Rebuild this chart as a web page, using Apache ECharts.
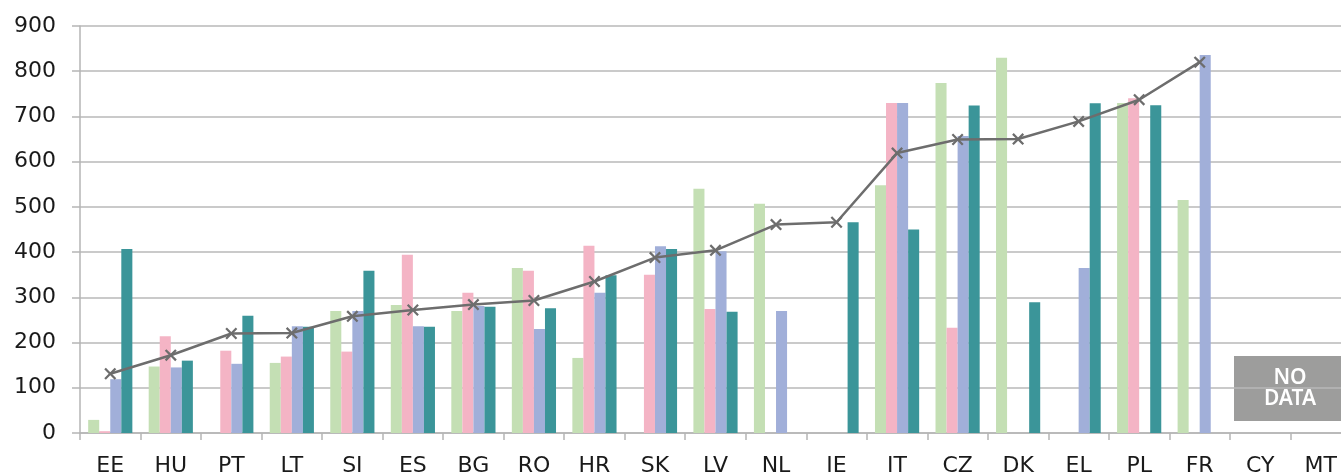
<!DOCTYPE html>
<html>
<head>
<meta charset="utf-8">
<script src="https://cdn.jsdelivr.net/npm/echarts@6/dist/echarts.min.js"></script>
<style>
html,body{margin:0;padding:0;background:#fff;}
#main{width:1341px;height:472px;}
</style>
</head>
<body>
<div id="main"></div>
<script>
const categories = ['EE','HU','PT','LT','SI','ES','BG','RO','HR','SK','LV','NL','IE','IT','CZ','DK','EL','PL','FR','CY','MT'];
const seriesA = [29, 147, null, 155, 270, 283, 270, 365, 166, null, 540, 507, null, 548, 774, 830, null, 730, 515, null, null];
const seriesB = [4, 214, 182, 169, 180, 394, 310, 359, 414, 350, 274, null, null, 730, 233, null, null, 740, null, null, null];
const seriesC = [119, 145, 153, 236, 270, 236, 281, 230, 310, 413, 402, 270, null, 730, 657, null, 365, null, 836, null, null];
const seriesD = [407, 160, 259, 235, 359, 235, 279, 276, 349, 407, 268, null, 466, 450, 724, 289, 729, 725, null, null, null];
const lineValues = [131, 172, 220, 221, 258, 272, 284, 293, 335, 388, 404, 461, 466, 619, 649, 650, 689, 737, 820, null, null];
const yTicks = {min: 0, max: 900, interval: 100};
const noDataText = 'NO\nDATA';

const colors = ['#c4dfb4', '#f4b4c5', '#a1afd9', '#3b9599'];
const font = 'DejaVu Sans';

const chart = echarts.init(document.getElementById('main'), null, {renderer: 'canvas'});
const xMarker = 'path://M0,1.6 L1.6,0 L6,4.4 L10.4,0 L12,1.6 L7.6,6 L12,10.4 L10.4,12 L6,7.6 L1.6,12 L0,10.4 L4.4,6 Z';

function bar(name, data, color) {
  return {
    name: name, type: 'bar', data: data,
    barGap: '0%', barCategoryGap: '27%',
    itemStyle: {color: color},
    emphasis: {disabled: true}
  };
}

chart.setOption({
  animation: false,
  grid: {left: 80, top: 26, width: 1271, height: 407, containLabel: false, outerBoundsMode: 'none'},
  xAxis: {
    type: 'category',
    data: categories,
    axisLine: {show: true, lineStyle: {color: '#b5b5b5', width: 1.5}},
    axisTick: {show: true, length: 7, lineStyle: {color: '#b5b5b5', width: 1.5}},
    axisLabel: {color: '#1a1a1a', fontFamily: font, fontSize: 22, margin: 22, interval: 0}
  },
  yAxis: {
    type: 'value',
    min: yTicks.min, max: yTicks.max, interval: yTicks.interval,
    axisLine: {show: true, lineStyle: {color: '#b5b5b5', width: 1.5}},
    axisTick: {show: true, length: 8, lineStyle: {color: '#b5b5b5', width: 1.5}},
    splitLine: {show: true, lineStyle: {color: '#b9b9b9', width: 1.5}},
    axisLabel: {color: '#1a1a1a', fontFamily: font, fontSize: 22, margin: 24}
  },
  series: [
    bar('Series 1', seriesA, colors[0]),
    bar('Series 2', seriesB, colors[1]),
    bar('Series 3', seriesC, colors[2]),
    bar('Series 4', seriesD, colors[3]),
    {
      name: 'Average', type: 'line', data: lineValues,
      symbol: xMarker, symbolSize: 12,
      lineStyle: {color: '#6d6d6d', width: 2.5},
      itemStyle: {color: '#6d6d6d'},
      emphasis: {disabled: true},
      z: 5
    }
  ],
  graphic: [
    {
      type: 'rect', left: 1234, top: 356,
      shape: {width: 120, height: 65},
      style: {fill: '#9d9d9c'}
    },
    {
      type: 'text', x: 1290, y: 389,
      style: {
        text: noDataText, fill: '#ffffff',
        font: '600 21px "Noto Sans"', lineHeight: 21,
        align: 'center', verticalAlign: 'middle'
      }
    }
  ]
});
</script>
</body>
</html>
